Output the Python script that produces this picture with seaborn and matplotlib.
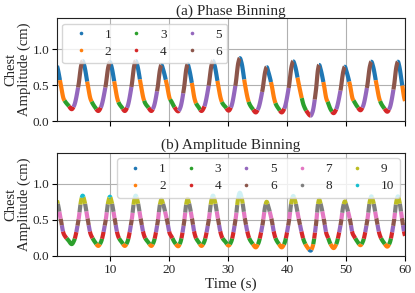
import numpy as np
import pandas as pd
import matplotlib
matplotlib.use("Agg")
import matplotlib.pyplot as plt
from matplotlib.lines import Line2D
import seaborn as sns

# ─── Data (time in s, amplitude in cm) ───────────────────────────────────────
PEAK_T = [0.75, 5.35, 9.98, 14.35, 18.7, 23.15, 27.45, 32.0, 36.55, 41.05,
          45.45, 49.8, 54.3, 58.8, 63.3]
PEAK_A = [0.82, 0.835, 0.82, 0.835, 0.78, 0.79, 0.835, 0.875, 0.75, 0.83,
          0.78, 0.755, 0.825, 0.825, 0.80]
TROUGH_T = [3.5, 8.0, 12.5, 17.0, 21.55, 25.5, 30.1, 34.7, 39.1, 44.0,
            47.9, 52.45, 57.0, 61.0]
TROUGH_A = [0.165, 0.14, 0.14, 0.14, 0.135, 0.14, 0.145, 0.12, 0.12, 0.075,
            0.11, 0.15, 0.13, 0.13]
SHOULDER_A = [0.27, 0.26, 0.25, 0.25, 0.27, 0.25, 0.25, 0.24, 0.24, 0.22,
              0.26, 0.27, 0.25, 0.25]

# where the fall / rise of one breath passes its landmarks (fraction of segment)
FALL_FRAC = [0.1, 0.33, 0.5, 0.6, 0.8]
RISE_FRAC = [0.22, 0.62, 0.87]

N_PHASE = 6
PHASE_LABELS = [str(i) for i in range(1, N_PHASE + 1)]
AMP_EDGES = [0.09, 0.165, 0.245, 0.335, 0.425, 0.515, 0.61, 0.72, 0.81]
AMP_LABELS = [str(i) for i in range(1, len(AMP_EDGES) + 2)]


def pchip(x, y, xs):
    """Monotone cubic through the landmarks (Fritsch-Carlson)."""
    x, y = np.asarray(x, float), np.asarray(y, float)
    h = np.diff(x)
    d = np.diff(y) / h
    m = np.zeros_like(y)
    m[0], m[-1] = d[0], d[-1]
    for k in range(1, len(x) - 1):
        if d[k - 1] * d[k] > 0:
            w1 = 2 * h[k] + h[k - 1]
            w2 = h[k] + 2 * h[k - 1]
            m[k] = (w1 + w2) / (w1 / d[k - 1] + w2 / d[k])
    i = np.clip(np.searchsorted(x, xs) - 1, 0, len(x) - 2)
    s = (xs - x[i]) / h[i]
    h00 = 2 * s**3 - 3 * s**2 + 1
    h10 = s**3 - 2 * s**2 + s
    h01 = -2 * s**3 + 3 * s**2
    h11 = s**3 - s**2
    return h00 * y[i] + h10 * h[i] * m[i] + h01 * y[i + 1] + h11 * h[i] * m[i + 1]


def build_trace():
    kt, ka = [], []
    for i in range(len(TROUGH_T)):
        p, a = PEAK_T[i], PEAK_A[i]
        tr, ta = TROUGH_T[i], TROUGH_A[i]
        pn, an = PEAK_T[i + 1], PEAK_A[i + 1]
        fall, rise = tr - p, pn - tr
        kt += [p] + [p + f * fall for f in FALL_FRAC] + [tr] + [tr + f * rise for f in RISE_FRAC]
        ka += [a, a - 0.06, 0.50, 0.31, SHOULDER_A[i], ta + 0.05, ta,
               ta + 0.05, (ta + an) / 2, an - 0.06]
    kt.append(PEAK_T[-1])
    ka.append(PEAK_A[-1])

    t = np.arange(1.0, 60.0001, 0.02)
    v = pchip(kt, ka, t)

    # phase bin: equal slices of each peak-to-peak interval
    pk = np.asarray(PEAK_T)
    idx = np.searchsorted(pk, t, side="right") - 1
    phase = (t - pk[idx]) / (pk[idx + 1] - pk[idx])
    phase_bin = np.minimum((phase * N_PHASE).astype(int), N_PHASE - 1) + 1

    amp_bin = np.digitize(v, AMP_EDGES) + 1

    return pd.DataFrame({"t": t, "v": v,
                         "phase": phase_bin.astype(str),
                         "amp": amp_bin.astype(str)})


def runs(df, col):
    """Split the trace into same-bin runs, each sharing its first sample with the previous run."""
    seg = (df[col] != df[col].shift()).cumsum()
    parts = []
    for sid, g in df.groupby(seg, sort=True):
        start = g.index[0]
        if start > 0:
            prev = df.loc[[start - 1]].copy()
            prev[col] = g[col].iloc[0]
            g = pd.concat([prev, g])
        parts.append(g.assign(seg=sid))
    return pd.concat(parts, ignore_index=True)


def draw(ax, df, col, labels, pal):
    d = runs(df, col)
    sns.lineplot(data=d, x="t", y="v", hue=col, hue_order=labels,
                 palette=pal, units="seg", estimator=None, sort=False,
                 linewidth=3.0, solid_capstyle="butt", legend=False, ax=ax)
    handles = [Line2D([], [], linestyle="", marker="o", markersize=2.6,
                      markeredgewidth=0, color=c) for c in pal]
    return handles


def style_axis(ax, title):
    ax.set_xlim(1, 60)
    ax.set_ylim(0, 1.43)
    ax.set_yticks([0.0, 0.5, 1.0])
    ax.set_title(title, fontsize=11, pad=2.5)
    ax.set_ylabel("Chest\nAmplitude (cm)", fontsize=10.5, labelpad=1,
                  linespacing=1.05)
    ax.tick_params(labelsize=9.5, length=3.5, width=0.8, color="black", pad=2)
    for sp in ax.spines.values():
        sp.set_visible(True)
        sp.set_color("#222222")
        sp.set_linewidth(0.8)


def main():
    sns.set_theme(style="ticks", rc={
        "axes.grid": True, "grid.color": "#b0b0b0", "grid.linewidth": 0.8,
    })
    plt.rcParams["font.family"] = ["Liberation Serif", "DejaVu Serif"]

    df = build_trace()
    pal = sns.color_palette("tab10", 10)

    fig = plt.figure(figsize=(4.15, 2.93), dpi=100)
    ax1 = fig.add_axes([0.1373, 0.587, 0.8386, 0.3505])
    ax2 = fig.add_axes([0.1373, 0.1263, 0.8386, 0.3527])

    h1 = draw(ax1, df, "phase", PHASE_LABELS, pal[:N_PHASE])
    h2 = draw(ax2, df, "amp", AMP_LABELS, pal)

    style_axis(ax1, "(a) Phase Binning")
    style_axis(ax2, "(b) Amplitude Binning")
    ax1.set_xlabel("")
    ax1.tick_params(labelbottom=False)
    ax2.set_xlabel("Time (s)", fontsize=11, labelpad=1)

    leg_kw = dict(fontsize=9.5, frameon=True, columnspacing=0.9,
                  labelspacing=0.35, handletextpad=0.8, borderaxespad=0.4)
    ax1.legend(h1, PHASE_LABELS, loc="upper left", ncol=3, **leg_kw)
    ax2.legend(h2, AMP_LABELS, loc="upper right", ncol=5, **leg_kw)

    fig.savefig("out.png", dpi=100)
    plt.close(fig)


if __name__ == "__main__":
    main()
